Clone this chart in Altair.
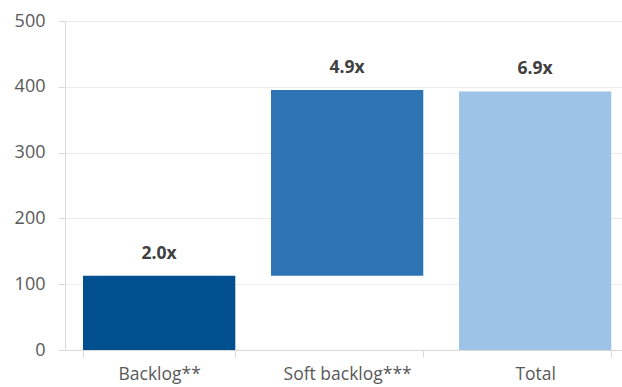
import altair as alt
import pandas as pd

categories = ["Backlog**", "Soft backlog***", "Total"]
bar_start = [0, 113, 0]
bar_end = [113, 395, 393]
value_labels = ["2.0x", "4.9x", "6.9x"]
colors = ["#00508f", "#2e74b5", "#9dc3e6"]
y_ticks = [0, 100, 200, 300, 400, 500]

df = pd.DataFrame({
    "cat": categories,
    "start": bar_start,
    "end": bar_end,
    "label": value_labels,
})

FONT = "Open Sans"

x_enc = alt.X(
    "cat:N",
    sort=categories,
    scale=alt.Scale(paddingInner=0.19, paddingOuter=0.0764, align=0.627),
    axis=alt.Axis(
        title=None, labelAngle=0, tickBand="extent", grid=False,
        domainColor="#d9d9d9", tickColor="#d9d9d9", tickSize=7,
        labelFontSize=17.5, labelColor="#595959", labelPadding=8, labelFont=FONT,
    ),
)
y_scale = alt.Scale(domain=[0, 500], nice=False, zero=True)

bars = alt.Chart(df).mark_bar().encode(
    x=x_enc,
    y=alt.Y(
        "start:Q", scale=y_scale,
        axis=alt.Axis(
            title=None, values=y_ticks, tickSize=7, labelPadding=13,
            gridColor="#ececec", domainColor="#d9d9d9", tickColor="#d9d9d9",
            labelFontSize=18, labelColor="#595959", labelFont=FONT,
        ),
    ),
    y2="end:Q",
    color=alt.Color("cat:N", scale=alt.Scale(domain=categories, range=colors), legend=None),
)

text = alt.Chart(df).mark_text(
    dy=-17, baseline="alphabetic", fontSize=17.5, fontWeight="bold",
    color="#404040", font=FONT,
).encode(
    x=alt.X("cat:N", sort=categories),
    y=alt.Y("end:Q", scale=y_scale),
    text="label:N",
)

chart = (bars + text).properties(
    width=557, height=329,
    autosize=alt.AutoSizeParams(type="none"),
    padding={"left": 65, "top": 21, "right": 0, "bottom": 37},
).configure_view(stroke=None).configure(background="white")

chart.save("out.html", embed_options={"renderer": "svg", "actions": False})
